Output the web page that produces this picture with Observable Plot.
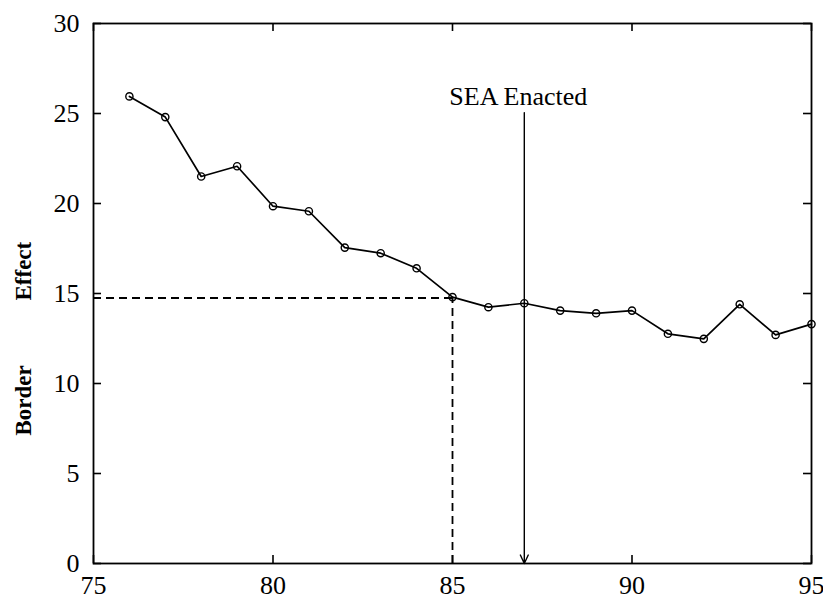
<!DOCTYPE html>
<html><head><meta charset="utf-8">
<script src="https://cdn.jsdelivr.net/npm/d3@7"></script>
<script src="https://cdn.jsdelivr.net/npm/@observablehq/plot@0.6"></script>
<style>body{margin:0;background:#fff}</style>
</head><body><div id="chart"></div>
<script>
const years  = [76, 77, 78, 79, 80, 81, 82, 83, 84, 85, 86, 87, 88, 89, 90, 91, 92, 93, 94, 95];
const effect = [25.95, 24.8, 21.5, 22.07, 19.85, 19.57, 17.55, 17.24, 16.4, 14.8, 14.24, 14.46, 14.05, 13.9, 14.05, 12.76, 12.48, 14.4, 12.7, 13.3];
const xTicks = [75, 80, 85, 90, 95];
const yTicks = [0, 5, 10, 15, 20, 25, 30];
const refYear = 85;
const refLevel = 14.75;
const eventYear = 87;
const eventTop = 25.05;
const eventLabelY = 25.45;
const eventLabel = "SEA Enacted";
const yLabelWords = ["Effect", "Border"];

const data = years.map((x, i) => ({x, y: effect[i]}));
const font = "Liberation Serif, Times New Roman, serif";

const chart = Plot.plot({
  width: 823, height: 603,
  marginLeft: 93, marginRight: 12, marginTop: 23, marginBottom: 40,
  style: {fontFamily: font, fontSize: "26px", color: "#000", background: "#fff"},
  x: {domain: [75, 95]},
  y: {domain: [0, 30]},
  marks: [
    Plot.axisX(xTicks, {tickSize: 0, tickPadding: 12, fontSize: 26, label: null}),
    Plot.axisY(yTicks, {tickSize: 0, tickPadding: 14, fontSize: 26, label: null}),
    Plot.tickX(xTicks, {x: d => d, insetTop: 532, stroke: "#000", strokeWidth: 1.6}),
    Plot.tickX(xTicks, {x: d => d, insetBottom: 532, stroke: "#000", strokeWidth: 1.6}),
    Plot.tickY(yTicks, {y: d => d, insetRight: 710, stroke: "#000", strokeWidth: 1.6}),
    Plot.tickY(yTicks, {y: d => d, insetLeft: 710, stroke: "#000", strokeWidth: 1.6}),
    Plot.ruleY([refLevel], {x1: 75, x2: refYear, stroke: "#000", strokeWidth: 1.8, strokeDasharray: "8,5"}),
    Plot.ruleX([refYear], {y1: 0, y2: refLevel, stroke: "#000", strokeWidth: 1.8, strokeDasharray: "8,5"}),
    Plot.arrow([{x: eventYear, y1: eventTop, y2: 0}], {x1: "x", x2: "x", y1: "y1", y2: "y2", stroke: "#000", strokeWidth: 1.4, headLength: 10, headAngle: 50}),
    Plot.text([eventLabel], {x: eventYear, y: eventLabelY, text: d => d, dx: -6, lineAnchor: "bottom", fontSize: 26, fill: "#000"}),
    Plot.line(data, {x: "x", y: "y", stroke: "#000", strokeWidth: 1.7}),
    Plot.dot(data, {x: "x", y: "y", r: 3.6, stroke: "#000", fill: "none", strokeWidth: 1.4}),
    Plot.text([yLabelWords[0]], {text: d => d, frameAnchor: "left", rotate: -90, dx: -70, dy: 7, fontSize: 23, fontWeight: "bold", fill: "#000"}),
    Plot.text([yLabelWords[1]], {text: d => d, frameAnchor: "left", rotate: -90, dx: -70, dy: 142, fontSize: 23, fontWeight: "bold", fill: "#000"}),
    Plot.frame({stroke: "#000", strokeWidth: 1.8})
  ]
});
document.getElementById("chart").appendChild(chart);
</script>
</body></html>
